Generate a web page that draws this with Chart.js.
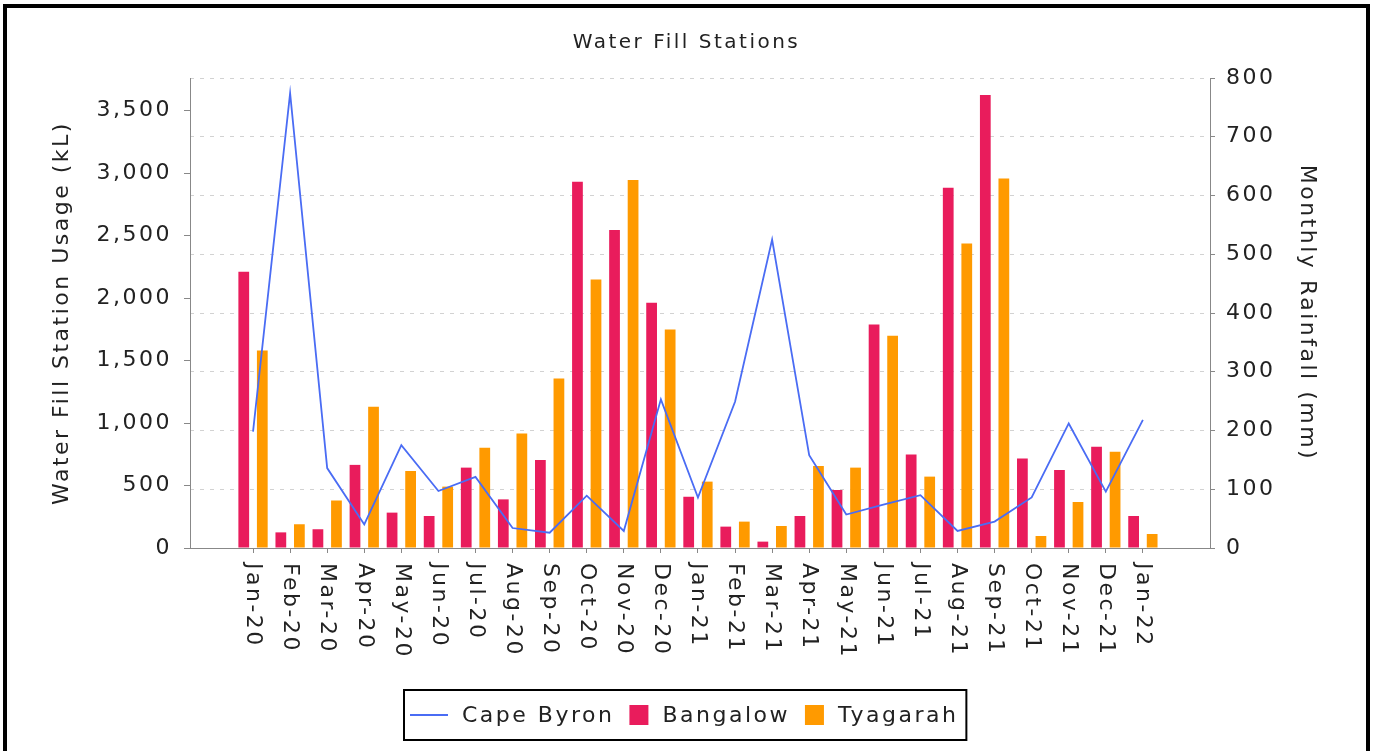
<!DOCTYPE html>
<html>
<head>
<meta charset="utf-8">
<script src="https://cdn.jsdelivr.net/npm/chart.js@4.4.1/dist/chart.umd.min.js"></script>
<style>
  html, body { margin: 0; padding: 0; background: #fff; overflow: hidden; }
  #wrap { position: absolute; left: 0; top: 0; width: 1373px; height: 751px; }
  #frame { position: absolute; left: 3px; top: 4px; width: 1359px; height: 800px; border: 4px solid #000; pointer-events: none; }
</style>
</head>
<body>
<div id="wrap"><canvas id="c" width="1373" height="751"></canvas></div>
<div id="frame"></div>
<script>
const categories = ['Jan-20','Feb-20','Mar-20','Apr-20','May-20','Jun-20','Jul-20','Aug-20','Sep-20','Oct-20','Nov-20','Dec-20',
  'Jan-21','Feb-21','Mar-21','Apr-21','May-21','Jun-21','Jul-21','Aug-21','Sep-21','Oct-21','Nov-21','Dec-21','Jan-22'];
const bangalow = [2210,125,150,665,283,256,643,389,704,2931,2544,1963,410,171,51,256,464,1789,749,2883,3624,717,624,811,256];
const tyagarah = [1580,190,380,1130,616,491,803,917,1357,2149,2944,1749,531,211,176,656,643,1699,571,2437,2957,96,368,771,112];
const capeByron = [198,774,136,40,175,97,121,34,26,89,29,253,86,249,525,158,57,74,90,29,45,86,212,96,218];
const usageTicks = [0,500,1000,1500,2000,2500,3000,3500];
const rainTicks = [0,100,200,300,400,500,600,700,800];

const FONT = 'DejaVu Sans';
const SPACING = '2.5px';
const TEXT = '#222';
const AXIS = '#888';

Chart.defaults.font.family = FONT;
Chart.defaults.font.size = 22;
Chart.defaults.color = TEXT;

const toXY = arr => arr.map((v, i) => ({ x: i, y: v }));

const spacingPlugin = {
  id: 'spacing',
  beforeUpdate(chart) { chart.ctx.letterSpacing = SPACING; },
  beforeLayout(chart) { chart.ctx.letterSpacing = SPACING; },
  beforeDraw(chart) { chart.ctx.letterSpacing = SPACING; }
};

const xLabelsPlugin = {
  id: 'xLabels',
  afterDraw(chart) {
    const ctx = chart.ctx;
    const xs = chart.scales.x;
    const y0 = chart.chartArea.bottom + 15;
    ctx.save();
    ctx.letterSpacing = SPACING;
    ctx.font = '22px ' + FONT;
    ctx.fillStyle = TEXT;
    ctx.textAlign = 'left';
    ctx.textBaseline = 'middle';
    categories.forEach((lab, i) => {
      const x = xs.getPixelForValue(i);
      ctx.save();
      ctx.translate(x, y0);
      ctx.rotate(Math.PI / 2);
      ctx.fillText(lab, 0, 0);
      ctx.restore();
    });
    ctx.restore();
  }
};

const legendPlugin = {
  id: 'boxLegend',
  afterDraw(chart) {
    const ctx = chart.ctx;
    ctx.save();
    ctx.letterSpacing = SPACING;
    ctx.font = '22px ' + FONT;
    ctx.textBaseline = 'middle';
    ctx.textAlign = 'left';
    const ds = chart.data.datasets;
    const items = ds.map(d => ({
      label: d.label,
      type: d.type,
      color: d.type === 'line' ? d.borderColor : d.backgroundColor,
      sym: d.type === 'line' ? 38 : 19,
      tw: ctx.measureText(d.label).width
    }));
    const padL = 6, padR = 8, gapSymText = 14, gapItems = 15;
    let total = padL + padR;
    items.forEach((it, k) => { total += it.sym + gapSymText + it.tw + (k < items.length - 1 ? gapItems : 0); });
    const cx = 685, cy = 715, h = 50;
    const left = Math.round(cx - total / 2);
    ctx.lineWidth = 2;
    ctx.strokeStyle = '#000';
    ctx.strokeRect(left, cy - h / 2, total, h);
    let x = left + padL;
    items.forEach(it => {
      if (it.type === 'line') {
        ctx.strokeStyle = it.color;
        ctx.lineWidth = 2;
        ctx.beginPath();
        ctx.moveTo(x, cy);
        ctx.lineTo(x + it.sym, cy);
        ctx.stroke();
      } else {
        ctx.fillStyle = it.color;
        ctx.fillRect(x, cy - 10, it.sym, 20);
      }
      x += it.sym + gapSymText;
      ctx.fillStyle = TEXT;
      ctx.fillText(it.label, x, cy + 1);
      x += it.tw + gapItems;
    });
    ctx.restore();
  }
};

new Chart(document.getElementById('c'), {
  data: {
    datasets: [
      { type: 'line', label: 'Cape Byron', data: toXY(capeByron), yAxisID: 'y1', xAxisID: 'x',
        borderColor: '#4a6cf4', backgroundColor: '#4a6cf4', borderWidth: 1.8, pointRadius: 0, tension: 0, order: 0 },
      { type: 'bar', label: 'Bangalow', data: toXY(bangalow), yAxisID: 'y', xAxisID: 'x',
        backgroundColor: '#e91c5c', borderWidth: 0, categoryPercentage: 1.0, barPercentage: 0.58, order: 1 },
      { type: 'bar', label: 'Tyagarah', data: toXY(tyagarah), yAxisID: 'y', xAxisID: 'x',
        backgroundColor: '#ff9a00', borderWidth: 0, categoryPercentage: 1.0, barPercentage: 0.58, order: 1 }
    ]
  },
  options: {
    responsive: false,
    animation: false,
    layout: { padding: 0 },
    plugins: {
      legend: { display: false },
      tooltip: { enabled: false },
      title: {
        display: true,
        text: 'Water Fill Stations',
        color: TEXT,
        font: { size: 20, weight: 'normal', family: FONT },
        padding: { top: 31, bottom: 23 }
      }
    },
    scales: {
      x: {
        type: 'linear',
        position: 'bottom',
        offset: false,
        min: -1.7,
        max: 25.81,
        ticks: { display: false, stepSize: 1 },
        afterBuildTicks(scale) {
          scale.ticks = categories.map((_, i) => ({ value: i }));
        },
        afterFit(scale) { scale.height = 751 - 548; },
        grid: { display: true, offset: false, drawOnChartArea: false, drawTicks: true, tickLength: 5, color: AXIS },
        border: { display: true, color: AXIS, width: 1 }
      },
      y: {
        type: 'linear',
        position: 'left',
        min: 0,
        max: 3760,
        ticks: { stepSize: 500, padding: 12, color: TEXT, font: { size: 22 } },
        afterBuildTicks(scale) {
          scale.ticks = usageTicks.map(v => ({ value: v }));
        },
        afterFit(scale) { scale.width = 190; },
        title: { display: true, text: 'Water Fill Station Usage (kL)', color: TEXT, font: { size: 22 }, padding: { top: 49, bottom: 0 } },
        grid: { display: true, drawOnChartArea: false, drawTicks: true, tickLength: 6, color: AXIS },
        border: { display: true, color: AXIS, width: 1 }
      },
      y1: {
        type: 'linear',
        position: 'right',
        min: 0,
        max: 800,
        ticks: { stepSize: 100, padding: 11, color: TEXT, font: { size: 22 } },
        afterBuildTicks(scale) {
          scale.ticks = rainTicks.map(v => ({ value: v }));
        },
        afterFit(scale) { scale.width = 1373 - 1210; },
        title: { display: true, text: 'Monthly Rainfall (mm)', color: TEXT, font: { size: 22 }, padding: { top: 53, bottom: 0 } },
        grid: { display: true, drawOnChartArea: true, drawTicks: true, tickLength: 5, color: '#d2d2d2',
                tickColor: AXIS, tickBorderDash: [] },
        border: { display: true, color: AXIS, width: 1, dash: [4, 6] }
      }
    }
  },
  plugins: [spacingPlugin, xLabelsPlugin, legendPlugin]
});
</script>
</body>
</html>
